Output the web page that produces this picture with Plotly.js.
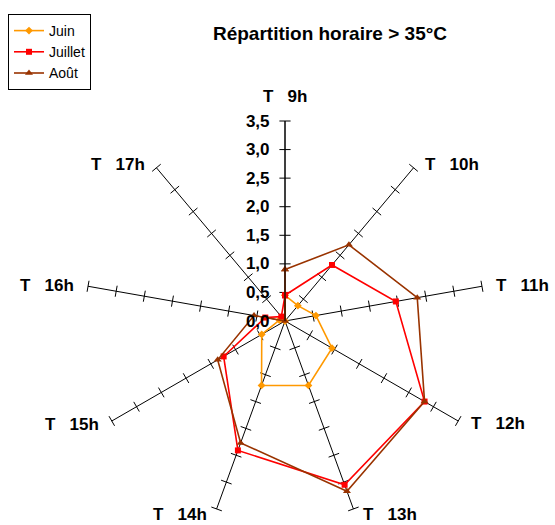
<!DOCTYPE html>
<html><head><meta charset="utf-8">
<script src="https://cdn.plot.ly/plotly-3.0.1.min.js"></script>
<style>html,body{margin:0;padding:0;background:#fff}</style>
</head><body><div id="chart" style="width:555px;height:525px"></div>
<script>
const categories = ['T\u00a0\u00a0\u00a09h','T\u00a0\u00a0\u00a010h','T\u00a0\u00a0\u00a011h','T\u00a0\u00a0\u00a012h','T\u00a0\u00a0\u00a013h','T\u00a0\u00a0\u00a014h','T\u00a0\u00a0\u00a015h','T\u00a0\u00a0\u00a016h','T\u00a0\u00a0\u00a017h'];
const juin    = [0.45, 0.35, 0.55, 0.95, 1.20, 1.20, 0.47, 0.10, 0.00];
const juillet = [0.45, 1.28, 1.97, 2.82, 3.05, 2.41, 1.24, 0.35, 0.10];
const aout    = [0.90, 1.74, 2.35, 2.82, 3.17, 2.27, 1.36, 0.55, 0.00];
const seriesNames = ['Juin','Juillet','Août'];
const radialTicks = [0.5, 1.0, 1.5, 2.0, 2.5, 3.0, 3.5];
const radialLabels = [0, 0.5, 1.0, 1.5, 2.0, 2.5, 3.0, 3.5];

const FONT = '"Liberation Sans", Arial, sans-serif';
const close = a => a.concat([a[0]]);
const thetaClosed = close(categories);
const nCat = categories.length;

// tick marks along every spoke
const tr = [], tt = [], ta = [];
categories.forEach((c, i) => {
  radialTicks.forEach(v => { tr.push(v); tt.push(c); ta.push(i * 360 / nCat); });
});

const traces = [
  {type:'scatterpolar', mode:'markers', r:tr, theta:tt, showlegend:false, hoverinfo:'skip',
   marker:{symbol:'line-ew', size:8, angle:ta, line:{color:'#000', width:1}}},
  {type:'scatterpolar', mode:'lines+markers', name:seriesNames[0], r:close(juin), theta:thetaClosed,
   line:{color:'#FF9900', width:1.6}, marker:{symbol:'diamond', size:6, color:'#FF9900'}},
  {type:'scatterpolar', mode:'lines+markers', name:seriesNames[1], r:close(juillet), theta:thetaClosed,
   line:{color:'#FF0000', width:1.6}, marker:{symbol:'square', size:6, color:'#FF0000'}},
  {type:'scatterpolar', mode:'lines+markers', name:seriesNames[2], r:close(aout), theta:thetaClosed,
   line:{color:'#993300', width:1.6}, marker:{symbol:'triangle-up', size:7, color:'#993300'}}
];

const W = 555, H = 525, cx = 285, cy = 321, R = 200;

// category labels placed just beyond the end of each spoke
const annotations = categories.map((c, i) => {
  const th = i * 2 * Math.PI / nCat;
  const s = Math.sin(th), co = Math.cos(th);
  const ex = cx + R * s, ey = cy - R * co;
  let xa = 'center', ya = 'middle', dx = 0, dy;
  if (Math.abs(s) < 0.01) { ya = 'bottom'; dy = -14; }
  else { xa = s > 0 ? 'left' : 'right'; dx = (s > 0 ? 1 : -1) * (7 + 6 * Math.abs(s)); dy = 0.5 - 5 * co; }
  return {text:'<b>' + c + '</b>', xref:'paper', yref:'paper', x:(ex + dx) / W, y:1 - (ey + dy) / H,
          xanchor:xa, yanchor:ya, showarrow:false, borderpad:0, font:{size:17, family:FONT, color:'#000'}};
});

const layout = {
  width: W, height: H,
  margin: {l:0, r:0, t:0, b:0},
  paper_bgcolor:'#fff',
  separators: ',.',
  font: {family:FONT, color:'#000'},
  title: {text:'<b>Répartition horaire > 35°C</b>', x:330/W, xanchor:'center', y:1-33/H, yanchor:'middle',
          font:{size:19, family:FONT, color:'#000'}},
  showlegend: true,
  legend: {x:8/W, xanchor:'left', y:1-14/H, yanchor:'top', bgcolor:'#fff', bordercolor:'#000', borderwidth:1,
           font:{size:14, family:FONT, color:'#000'}, tracegroupgap:0},
  annotations: annotations,
  polar: {
    domain: {x:[(cx-R)/W, (cx+R)/W], y:[(H-cy-R)/H, (H-cy+R)/H]},
    bgcolor:'#fff',
    angularaxis: {type:'category', rotation:90, direction:'clockwise', showline:false, showgrid:true,
                  gridcolor:'#000', gridwidth:1, ticks:'', showticklabels:false},
    radialaxis: {range:[0,3.5], angle:90, tickangle:90, showgrid:false, showline:true, linecolor:'#000', linewidth:1,
                 ticks:'outside', ticklen:9, tickcolor:'rgba(0,0,0,0)', tickvals:radialLabels, tickformat:'.1f',
                 side:'counterclockwise',
                 tickfont:{size:17, family:FONT, color:'#000', weight:'bold'}}
  }
};
Plotly.newPlot('chart', traces, layout, {displayModeBar:false, staticPlot:true});
</script></body></html>
